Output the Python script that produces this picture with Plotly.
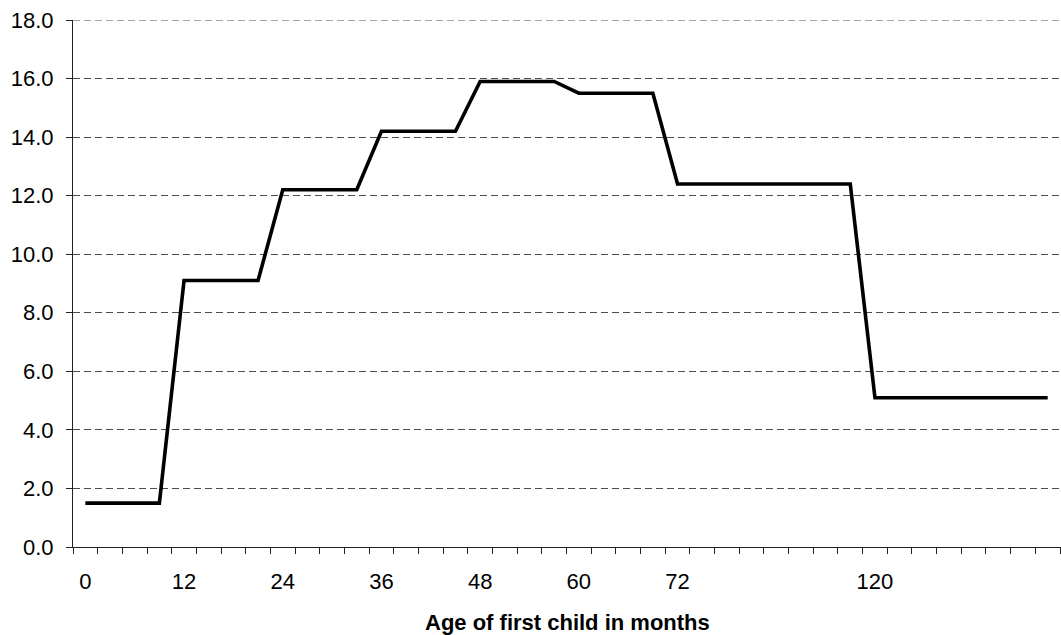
import plotly.graph_objects as go

# Category labels (one per category; blank = unlabeled category)
cat_labels = ["0", "", "", "", "12", "", "", "", "24", "", "", "", "36", "", "", "",
              "48", "", "", "", "60", "", "", "", "72", "", "", "", "", "", "", "",
              "120", "", "", "", "", "", "", ""]

# Series values (one per category)
values = [1.5, 1.5, 1.5, 1.5, 9.1, 9.1, 9.1, 9.1,
          12.2, 12.2, 12.2, 12.2, 14.2, 14.2, 14.2, 14.2,
          15.9, 15.9, 15.9, 15.9, 15.5, 15.5, 15.5, 15.5,
          12.4, 12.4, 12.4, 12.4, 12.4, 12.4, 12.4, 12.4,
          5.1, 5.1, 5.1, 5.1, 5.1, 5.1, 5.1, 5.1]

y_ticks = [0, 2, 4, 6, 8, 10, 12, 14, 16, 18]

x_title = "Age of first child in months"

FONT = "Liberation Sans, Arial, sans-serif"
GRID = "#4d4d4d"
DASH = "7px,4px"

n = len(values)
xs = list(range(n))
label_pos = [i for i, t in enumerate(cat_labels) if t != ""]
label_txt = [cat_labels[i] for i in label_pos]
boundaries = [i - 0.5 for i in range(n + 1)]

fig = go.Figure()
fig.add_trace(go.Scatter(
    x=xs, y=values, mode="lines",
    line=dict(color="#000000", width=3.6),
    hoverinfo="skip", showlegend=False,
))

fig.update_layout(
    width=1061, height=635,
    margin=dict(l=73, r=0, t=20, b=88),
    paper_bgcolor="white", plot_bgcolor="white",
    font=dict(family=FONT, size=22, color="#000000"),
    showlegend=False,
    xaxis=dict(
        range=[-0.5, 39.54],
        tickmode="array", tickvals=label_pos, ticktext=label_txt,
        ticks="", showgrid=False, zeroline=False,
        showline=True, linecolor="#222222", linewidth=1,
        ticklabelstandoff=15,
        tickfont=dict(family=FONT, size=22, color="#000000"),
        minor=dict(tickmode="array", tickvals=boundaries, ticks="outside",
                   ticklen=6, tickcolor="#222222", tickwidth=1, showgrid=False),
    ),
    yaxis=dict(
        range=[0, 18],
        tickmode="array", tickvals=y_ticks, tickformat=".1f",
        ticks="outside", ticklen=6, tickcolor="#222222", tickwidth=1,
        showline=True, linecolor="#222222", linewidth=1,
        showgrid=True, gridcolor=GRID, gridwidth=1, griddash=DASH,
        zeroline=False,
        ticklabelstandoff=8,
        tickfont=dict(family=FONT, size=22, color="#000000"),
    ),
    shapes=[dict(
        type="line", xref="paper", yref="y", x0=0, x1=1,
        y0=y_ticks[-1], y1=y_ticks[-1], layer="below",
        line=dict(color=GRID, width=1, dash=DASH),
    )],
    annotations=[dict(
        text="<b>" + x_title + "</b>",
        xref="paper", yref="paper", x=0.5, y=-0.1436,
        xanchor="center", yanchor="middle", showarrow=False,
        font=dict(family=FONT, size=22, color="#000000"),
    )],
)

fig.write_html(
    "out.html",
    config={"displayModeBar": False},
    post_script="document.body.style.margin='0';document.body.style.overflow='hidden';",
)
